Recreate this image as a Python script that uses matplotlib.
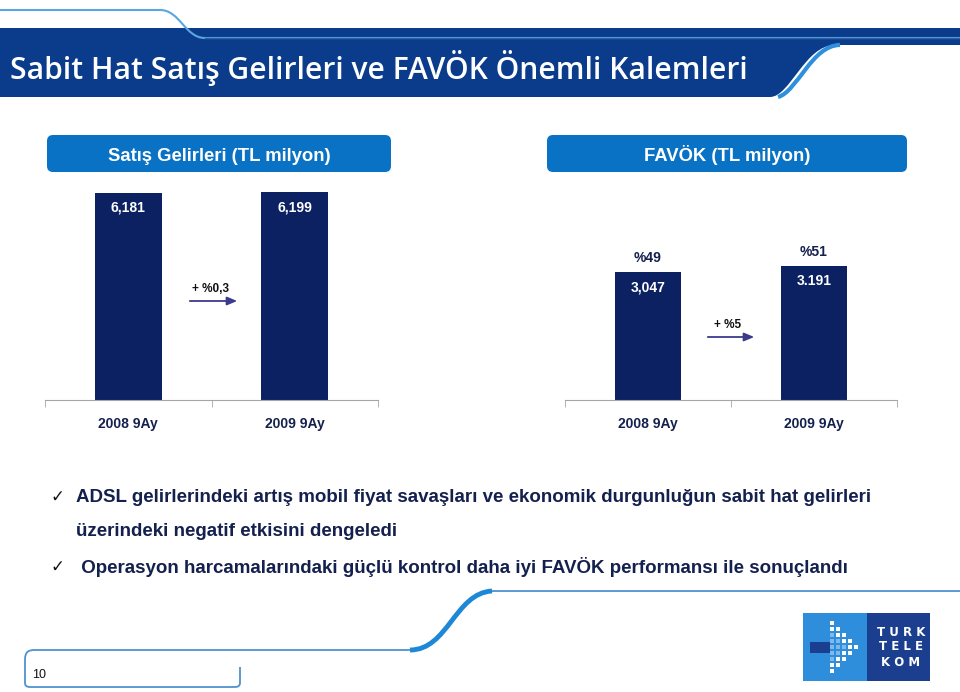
import matplotlib
matplotlib.use("Agg")
import matplotlib.pyplot as plt
import numpy as np
from matplotlib.patches import FancyBboxPatch, Rectangle, PathPatch
from matplotlib.path import Path

# data
periods = ["2008 9Ay", "2009 9Ay"]
sales = [6181, 6199]
sales_labels = ["6,181", "6,199"]
ebitda = [3047, 3191]
ebitda_labels = ["3,047", "3.191"]
margins = ["%49", "%51"]
sales_growth = "+ %0,3"
ebitda_growth = "+ %5"
bullets = [
    "ADSL gelirlerindeki artış mobil fiyat savaşları ve ekonomik durgunluğun sabit hat gelirleri",
    "üzerindeki negatif etkisini dengeledi",
    " Operasyon harcamalarındaki güçlü kontrol daha iyi FAVÖK performansı ile sonuçlandı",
]

NAVY = "#0C2162"
BOX = "#0A72C4"
TXT = "#14214E"
ARROW = "#3B3A8C"
W, H = 960, 692

fig = plt.figure(figsize=(9.6, 6.92), dpi=100)
bg = fig.add_axes([0, 0, 1, 1])
bg.set_xlim(0, W)
bg.set_ylim(H, 0)
bg.axis("off")

# title banner
band = Path([(0, 28), (960, 28), (960, 45), (835, 45), (805, 45), (790, 97), (770, 97), (0, 97), (0, 28)],
            [Path.MOVETO, Path.LINETO, Path.LINETO, Path.LINETO, Path.CURVE4, Path.CURVE4, Path.CURVE4,
             Path.LINETO, Path.CLOSEPOLY])
bg.add_patch(PathPatch(band, fc="#0B3C8C", ec="none"))
edge = Path([(840, 45), (812, 45), (797, 92), (778, 97)], [Path.MOVETO, Path.CURVE4, Path.CURVE4, Path.CURVE4])
bg.add_patch(PathPatch(edge, fc="none", ec="#2E90DC", lw=3))
top = Path([(0, 10), (160, 10), (180, 10), (185, 38), (205, 38), (960, 38)],
           [Path.MOVETO, Path.LINETO, Path.CURVE4, Path.CURVE4, Path.CURVE4, Path.LINETO])
bg.add_patch(PathPatch(top, fc="none", ec="#5AA6DE", lw=1.5))
bg.plot([205, 960], [38, 38], color="#2C5FA8", lw=1)
bg.text(10, 68, "Sabit Hat Satış Gelirleri ve FAVÖK Önemli Kalemleri", color="white",
        fontsize=21.6, family="Open Sans", fontweight="semibold", va="center", ha="left")

# header boxes
for x0, x1, lab in [(47, 391, "Satış Gelirleri (TL milyon)"), (547, 907, "FAVÖK (TL milyon)")]:
    bg.add_patch(FancyBboxPatch((x0, 135), x1 - x0, 37, boxstyle="round,pad=0,rounding_size=6",
                                fc=BOX, ec="none"))
    bg.text((x0 + x1) / 2, 161, lab, color="white", fontsize=13.3, fontweight="bold",
            family="Liberation Sans", ha="center", va="baseline")


def bar_panel(x0, x1, ymax, values, labels):
    ax = fig.add_axes([x0 / W, 1 - 400 / H, (x1 - x0) / W, 208 / H])
    xs = np.arange(len(values))
    ax.bar(xs, values, width=0.4, color=NAVY)
    ax.set_xlim(-0.5, 1.5)
    ax.set_ylim(0, ymax)
    for s in ["top", "left", "right"]:
        ax.spines[s].set_visible(False)
    ax.spines["bottom"].set_color("#A6A6A6")
    ax.set_yticks([])
    ax.set_xticks(xs)
    ax.set_xticklabels(periods, fontsize=10, fontweight="bold", color=TXT, family="Liberation Sans")
    ax.tick_params(axis="x", which="major", length=0, pad=12)
    ax.set_xticks([-0.5, 0.5, 1.5], minor=True)
    ax.tick_params(axis="x", which="minor", length=5, color="#A6A6A6")
    ax.patch.set_alpha(0)
    for x, v, lab in zip(xs, values, labels):
        ax.annotate(lab, (x, v), xytext=(0, -15), textcoords="offset pixels", ha="center", va="center",
                    color="white", fontsize=10, fontweight="bold", family="Liberation Sans")
    return ax


ax1 = bar_panel(45, 378, max(sales), sales, sales_labels)
ax2 = bar_panel(565, 897, 4953, ebitda, ebitda_labels)
for x, v, m in zip(range(2), ebitda, margins):
    ax2.annotate(m, (x, v), xytext=(0, 14), textcoords="offset pixels", ha="center", va="center",
                 color=TXT, fontsize=10, fontweight="bold", family="Liberation Sans")

# growth arrows
for (xa, xb, y, lab) in [(187, 240, 301, sales_growth), (705, 757, 337, ebitda_growth)]:
    bg.annotate("", xy=(xb, y), xytext=(xa, y),
                arrowprops=dict(arrowstyle="-|>,head_length=0.6,head_width=0.25", color=ARROW, lw=1.3))
    bg.text((xa + xb) / 2 - 3, y - 12, lab, ha="center", va="center", fontsize=8.5, fontweight="bold",
            color="#111111", family="Liberation Sans")

# bullets
for y in [497, 567]:
    bg.text(57, y, "✓", fontsize=12, color="#111111", family="DejaVu Sans", ha="center", va="center")
for y, line in zip([497, 531, 567], bullets):
    bg.text(76, y, line, fontsize=13.5, fontweight="bold", color=TXT, family="Liberation Sans",
            ha="left", va="center")

# footer
foot = Path([(25, 660), (25, 652), (28, 650), (35, 650), (406, 650), (450, 650), (455, 591), (495, 591), (960, 591)],
            [Path.MOVETO, Path.CURVE4, Path.CURVE4, Path.CURVE4, Path.LINETO, Path.CURVE4, Path.CURVE4,
             Path.CURVE4, Path.LINETO])
bg.add_patch(PathPatch(foot, fc="none", ec="#4D93CF", lw=1.3))
swoosh = Path([(410, 650), (448, 650), (455, 593), (492, 591)], [Path.MOVETO, Path.CURVE4, Path.CURVE4, Path.CURVE4])
bg.add_patch(PathPatch(swoosh, fc="none", ec="#1E88D6", lw=3.5))
box = Path([(25, 660), (25, 683), (25, 687), (30, 687), (235, 687), (240, 687), (240, 683), (240, 667)],
           [Path.MOVETO, Path.LINETO, Path.CURVE3, Path.CURVE3, Path.LINETO, Path.CURVE3, Path.CURVE3, Path.LINETO])
bg.add_patch(PathPatch(box, fc="none", ec="#4D93CF", lw=1.3))
bg.text(32, 675, "10", fontsize=9, color="#111111", family="Liberation Sans", va="center")

# logo
bg.add_patch(Rectangle((803, 613), 64, 68, fc="#2E8EDB", ec="none"))
bg.add_patch(Rectangle((867, 613), 63, 68, fc="#1B3E8E", ec="none"))
bg.add_patch(Rectangle((810, 642), 20, 11, fc="#1B3E8E", ec="none"))
dots_x, dots_y, dots_c = [], [], []
for i, n in enumerate([1, 2, 3, 4, 5, 4, 3, 2, 1]):
    for j in range(n):
        dots_x.append(832 + j * 6)
        dots_y.append(623 + i * 6)
        dots_c.append("white" if j >= n - 2 else "#7FB8EA")
bg.scatter(dots_x, dots_y, s=7, c=dots_c, marker="s", linewidths=0)
for y, t in zip([632, 647, 663], ["T U R K", "T E L E", "K O M"]):
    bg.text(901, y, t, color="white", fontsize=8.5, fontweight="bold", family="DejaVu Sans",
            ha="center", va="center")

fig.savefig("out.png", dpi=100)
